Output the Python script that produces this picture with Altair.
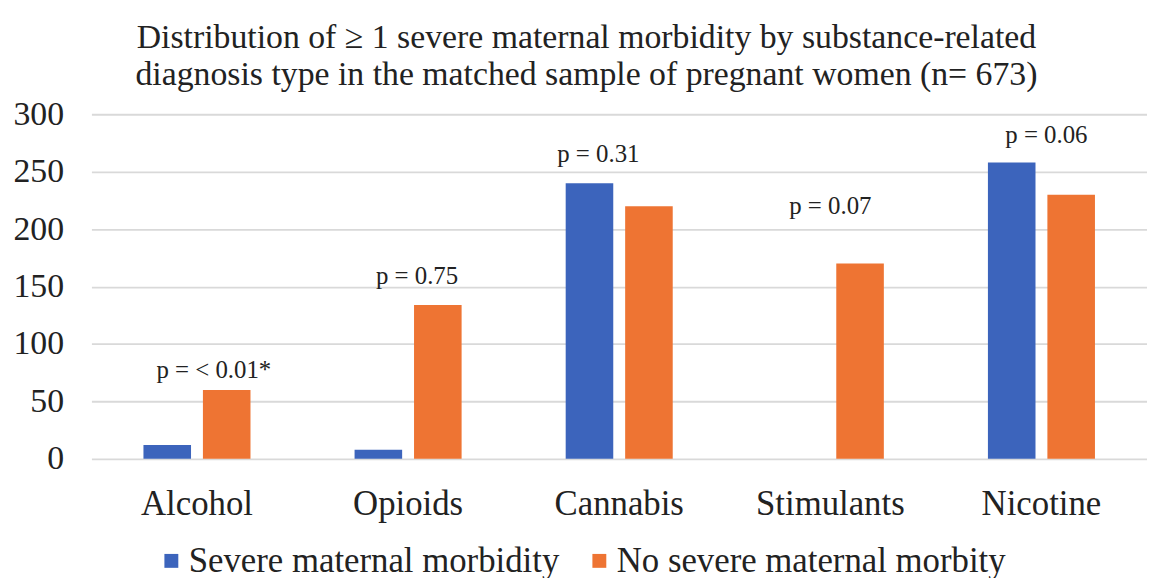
import altair as alt
import pandas as pd

categories = ["Alcohol", "Opioids", "Cannabis", "Stimulants", "Nicotine"]
series = ["Severe maternal morbidity", "No severe maternal morbity"]
severe = [12, 8, 240, 0, 258]
no_severe = [60, 134, 220, 170, 230]
p_labels = ["p = < 0.01*", "p = 0.75", "p = 0.31", "p = 0.07", "p = 0.06"]
p_label_anchor = [66, 148, 254, 209, 271]
colors = ["#3C64BC", "#EE7433"]

rows = []
for c, a, b in zip(categories, severe, no_severe):
    rows.append({"category": c, "group": series[0], "value": a})
    rows.append({"category": c, "group": series[1], "value": b})
df = pd.DataFrame(rows)
ann = pd.DataFrame({"category": categories, "label": p_labels, "y": p_label_anchor})

FONT = "Liberation Serif, Times New Roman, serif"

x_enc = alt.X("category:N", sort=categories, title=None,
              scale=alt.Scale(paddingInner=0.493, paddingOuter=0.2465),
              axis=alt.Axis(labelAngle=0, labelFontSize=35, labelFont=FONT,
                            labelColor="#222222", domain=False, ticks=False,
                            labelPadding=28))
y_scale = alt.Scale(domain=[0, 300])

bars = alt.Chart(df).mark_bar().encode(
    x=x_enc,
    xOffset=alt.XOffset("group:N", sort=series,
                        scale=alt.Scale(paddingInner=0.2, paddingOuter=0)),
    y=alt.Y("value:Q", scale=y_scale, title=None,
            axis=alt.Axis(values=[0, 50, 100, 150, 200, 250, 300],
                          labelFontSize=34, labelFont=FONT, labelColor="#222222",
                          domain=False, ticks=False, labelPadding=28,
                          gridColor="#D9D9D9", gridWidth=1.8)),
    color=alt.Color("group:N", sort=series,
                    scale=alt.Scale(domain=series, range=colors),
                    legend=alt.Legend(title=None, orient="none", direction="horizontal",
                                      legendX=63, legendY=432,
                                      symbolType="square", symbolSize=196,
                                      symbolStrokeWidth=0, labelFontSize=35,
                                      labelFont=FONT, labelColor="#222222",
                                      labelOffset=0, columnPadding=22, labelLimit=600)),
)

# small horizontal nudges of the p-value annotations, as in the reference
nudges = {"Alcohol": 17, "Opioids": 9, "Cannabis": -21, "Stimulants": 0, "Nicotine": 5}
text_layers = []
for cat in categories:
    text_layers.append(
        alt.Chart(ann).transform_filter(alt.datum.category == cat)
        .mark_text(font=FONT, fontSize=25, baseline="bottom", color="#222222",
                   dx=nudges[cat])
        .encode(
            x=alt.X("category:N", sort=categories),
            y=alt.Y("y:Q", scale=y_scale),
            text="label:N",
        )
    )

chart = alt.layer(bars, *text_layers).properties(
    width=1063, height=347,
    title=alt.TitleParams(
        ["Distribution of \u2265 1 severe maternal morbidity by substance-related",
         "diagnosis type in the matched sample of pregnant women (n= 673)"],
        font=FONT, fontSize=34, fontWeight="normal", color="#222222",
        anchor="middle", lineHeight=38, offset=5, dx=-33),
    padding={"left": 5, "top": 11, "right": 0, "bottom": 0},
).configure(font=FONT).configure_view(stroke=None)

chart.save("out.html", embed_options={"renderer": "svg", "actions": False})
